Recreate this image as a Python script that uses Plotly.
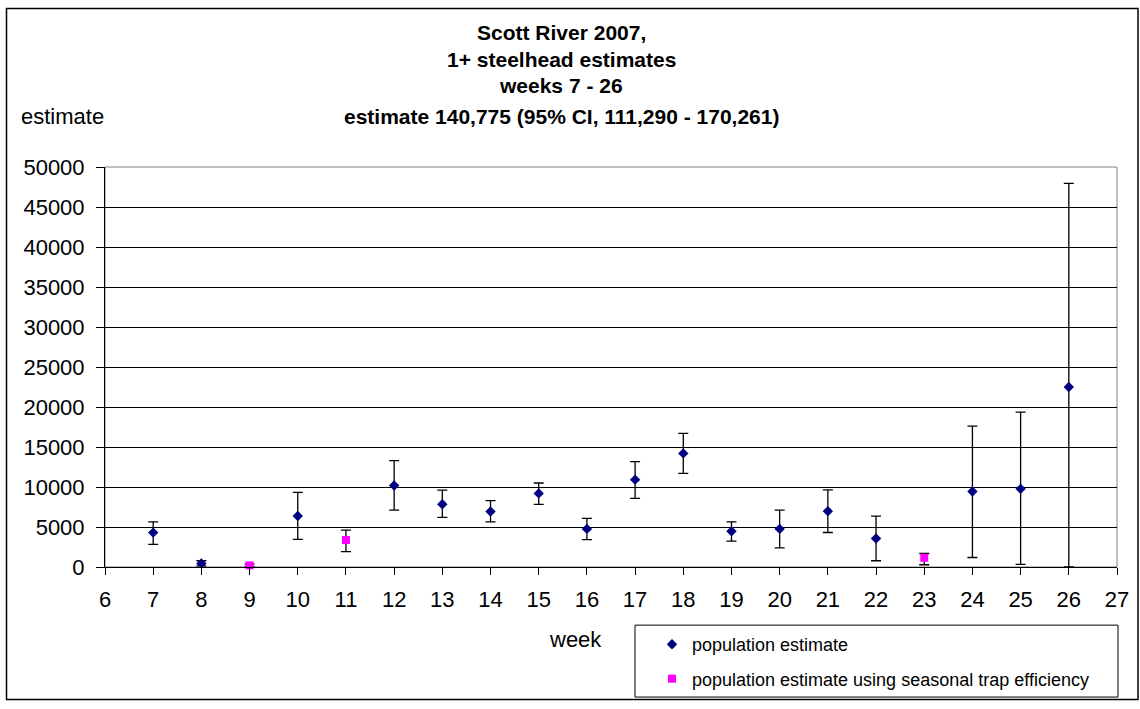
import plotly.graph_objects as go

# ---- data ----
weeks_pe = [7, 8, 10, 12, 13, 14, 15, 16, 17, 18, 19, 20, 21, 22, 24, 25, 26]
est_pe = [4300, 450, 6370, 10180, 7840, 6930, 9200, 4760, 10920, 14200, 4470, 4760, 6980, 3570, 9440, 9770, 22500]
upper_pe = [5630, 780, 9320, 13300, 9600, 8290, 10500, 6070, 13180, 16710, 5630, 7100, 9640, 6370, 17610, 19370, 47950]
lower_pe = [2830, 130, 3450, 7100, 6200, 5630, 7840, 3410, 8580, 11700, 3240, 2380, 4310, 780, 1190, 330, 0]

weeks_st = [9, 11, 23]
est_st = [200, 3370, 1150]
upper_st = [350, 4600, 1690]
lower_st = [50, 1930, 280]

title_lines = ["Scott River 2007,", "1+ steelhead estimates", "weeks 7 - 26",
               "estimate 140,775 (95% CI, 111,290 - 170,261)"]
y_ticks = list(range(0, 50001, 5000))
x_ticks = list(range(6, 28))

# ---- layout geometry ----
W, H = 1140, 709
L, R, T, B = 105, 1117, 167, 573
FONT = "Liberation Sans, Arial, sans-serif"
title_centres = [30.5, 57.5, 84.5, 115.5]

def px_x(p):
    return (p - L) / (R - L)

def px_y(p):
    return (B - p) / (B - T)

fig = go.Figure()

fig.add_trace(go.Scatter(
    x=weeks_pe, y=est_pe, mode="markers", name="population estimate",
    marker=dict(symbol="diamond", color="#000080", size=8),
    error_y=dict(type="data", symmetric=False,
                 array=[u - e for u, e in zip(upper_pe, est_pe)],
                 arrayminus=[e - l for e, l in zip(est_pe, lower_pe)],
                 color="black", thickness=1.3, width=5),
    legendgroup="a", cliponaxis=False,
))
fig.add_trace(go.Scatter(
    x=weeks_st, y=est_st, mode="markers",
    name="population estimate using seasonal trap efficiency",
    marker=dict(symbol="square", color="#FF00FF", size=8),
    error_y=dict(type="data", symmetric=False,
                 array=[u - e for u, e in zip(upper_st, est_st)],
                 arrayminus=[e - l for e, l in zip(est_st, lower_st)],
                 color="black", thickness=1.3, width=5),
    legendgroup="b", cliponaxis=False,
))

fig.update_layout(
    width=W, height=H,
    margin=dict(l=L, r=W - R, t=T, b=H - B, pad=0),
    paper_bgcolor="white", plot_bgcolor="white",
    font=dict(family=FONT, size=22, color="black"),
    showlegend=True,
    legend=dict(x=px_x(652), y=px_y(633), xanchor="left", yanchor="top",
                bgcolor="rgba(0,0,0,0)", borderwidth=0,
                font=dict(family=FONT, size=18, color="black"),
                tracegroupgap=8, traceorder="grouped"),
    xaxis=dict(range=[6, 27], tickvals=x_ticks, ticktext=[str(v) for v in x_ticks],
               showgrid=False, zeroline=False, showline=True, linecolor="black",
               linewidth=1, ticks="outside", ticklen=7, tickcolor="black",
               tickfont=dict(size=22), ticklabelstandoff=6, fixedrange=True),
    yaxis=dict(range=[0, 50000], tickvals=y_ticks, ticktext=[str(v) for v in y_ticks],
               showgrid=True, gridcolor="black", gridwidth=1, zeroline=False,
               showline=True, linecolor="black", linewidth=1, ticks="outside",
               ticklen=8, tickcolor="black", tickfont=dict(size=22),
               ticklabelstandoff=7, fixedrange=True),
)

shapes = [
    # outer chart border
    dict(type="rect", xref="paper", yref="paper", x0=px_x(6.5), x1=px_x(1138),
         y0=px_y(707.5), y1=px_y(6), line=dict(color="black", width=1.5), layer="below"),
    # plot-area border
    dict(type="rect", xref="paper", yref="paper", x0=0, x1=1, y0=0, y1=1,
         line=dict(color="#808080", width=1), layer="below"),
    # legend box
    dict(type="rect", xref="paper", yref="paper", x0=px_x(635), x1=px_x(1118),
         y0=px_y(705), y1=px_y(632), line=dict(color="black", width=1), layer="below"),
]
fig.update_layout(shapes=shapes)

annotations = []
for line, yc in zip(title_lines, title_centres):
    annotations.append(dict(text="<b>" + line + "</b>", xref="paper", yref="paper",
                            x=px_x(561), y=px_y(yc), xanchor="center", yanchor="middle",
                            showarrow=False, font=dict(family=FONT, size=21, color="black")))
annotations += [
    dict(text="estimate", xref="paper", yref="paper", x=px_x(19), y=px_y(116),
         xanchor="left", yanchor="middle", showarrow=False,
         font=dict(family=FONT, size=22, color="black")),
    dict(text="week", xref="paper", yref="paper", x=px_x(575), y=px_y(647),
         xanchor="center", yanchor="middle", showarrow=False,
         font=dict(family=FONT, size=22, color="black")),
]
fig.update_layout(annotations=annotations)

fig.write_html("out.html")
